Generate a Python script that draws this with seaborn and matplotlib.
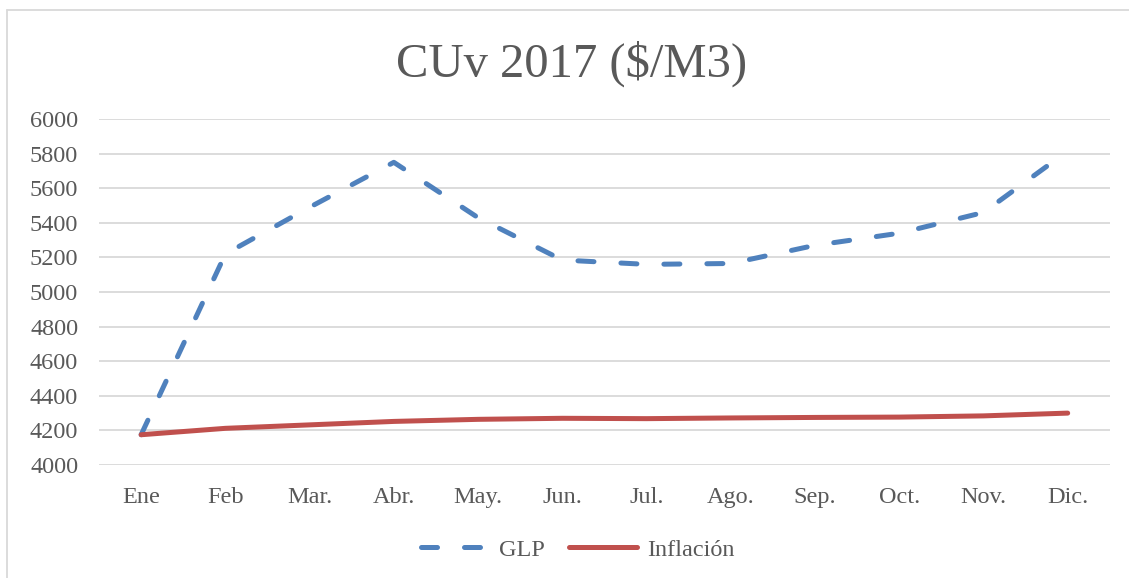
import pandas as pd
import seaborn as sns
import matplotlib.pyplot as plt
from matplotlib.lines import Line2D

# datos
meses = ['Ene', 'Feb', 'Mar.', 'Abr.', 'May.', 'Jun.', 'Jul.', 'Ago.',
         'Sep.', 'Oct.', 'Nov.', 'Dic.']
glp = [4175, 5220, 5490, 5750, 5430, 5185, 5160, 5165, 5270, 5340, 5460, 5815]
inflacion = [4175, 4212, 4232, 4252, 4264, 4270, 4268, 4272, 4275, 4277, 4284, 4300]
y_ticks = [4000, 4200, 4400, 4600, 4800, 5000, 5200, 5400, 5600, 5800, 6000]

df = pd.concat([
    pd.DataFrame({'mes': meses, 'valor': glp, 'serie': 'GLP'}),
    pd.DataFrame({'mes': meses, 'valor': inflacion, 'serie': 'Inflación'}),
])

sns.set_style('white')
plt.rcParams['font.family'] = ['Liberation Serif', 'DejaVu Serif']
gris = '#595959'
colores = {'GLP': '#4F81BD', 'Inflación': '#C0504D'}

fig = plt.figure(figsize=(11.29, 5.78), dpi=100)
ax = fig.add_axes([0.0877, 0.1955, 0.8953, 0.5985])

sns.lineplot(data=df, x='mes', y='valor', hue='serie', style='serie',
             palette=colores, dashes={'GLP': (3.2, 5.4), 'Inflación': ''},
             linewidth=3.6, sort=False, legend=False, ax=ax)
for ln in ax.lines:
    ln.set_dash_capstyle('round')
    ln.set_solid_capstyle('round')

ax.set_xlim(-0.5, 11.5)
ax.set_ylim(4000, 6000)
ax.set_yticks(y_ticks)
ax.set_xlabel('')
ax.set_ylabel('')
ax.grid(axis='y', color='#D9D9D9', linewidth=1.3)
ax.set_axisbelow(True)
for s in ax.spines.values():
    s.set_visible(False)
ax.tick_params(axis='both', length=0, labelsize=17.5, labelcolor=gris)
ax.tick_params(axis='y', pad=15)
ax.tick_params(axis='x', pad=16)

fig.text(0.506, 0.889, 'CUv 2017 ($/M3)', ha='center', va='center',
         fontsize=35, color=gris)

handles = [Line2D([], [], color=colores['GLP'], lw=3.6, dashes=(3.2, 5.4),
                  dash_capstyle='round'),
           Line2D([], [], color=colores['Inflación'], lw=3.6,
                  solid_capstyle='round')]
fig.legend(handles, ['GLP', 'Inflación'], loc='center', ncol=2,
           bbox_to_anchor=(0.512, 0.049), frameon=False, fontsize=17.5,
           handlelength=2.8, columnspacing=1.0, handletextpad=0.4,
           labelcolor=gris)

# marco del área del gráfico (solo arriba e izquierda visibles)
fig.add_artist(Line2D([7 / 1129, 1], [1 - 9.5 / 578, 1 - 9.5 / 578],
                      color='#D9D9D9', lw=1.3, transform=fig.transFigure))
fig.add_artist(Line2D([7 / 1129, 7 / 1129], [0, 1 - 9.5 / 578],
                      color='#D9D9D9', lw=1.3, transform=fig.transFigure))

fig.savefig('out.png', dpi=100, facecolor='white')
